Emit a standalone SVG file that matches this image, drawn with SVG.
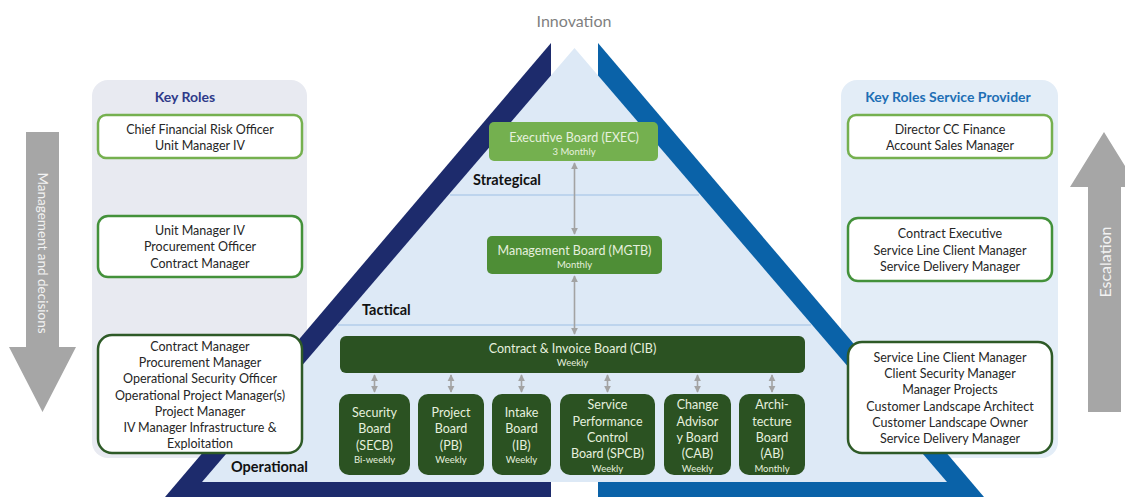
<svg xmlns="http://www.w3.org/2000/svg" width="1125" height="497" viewBox="0 0 1125 497">
  <style>
    text { font-family: Lato, "Liberation Sans", sans-serif; text-anchor: middle; }
    .role { font-size: 12.5px; fill: #262626; }
    .box { fill: #ffffff; stroke-width: 2.5; }
    .lvl1 { stroke: #75b04f; }
    .lvl2 { stroke: #43913a; }
    .lvl3 { stroke: #2e5a27; }
    .title { font-size: 14px; font-weight: bold; }
    .tier { font-size: 14.5px; font-weight: bold; fill: #111111; text-anchor: start; }
    .bname { font-size: 12.5px; fill: #e6f0de; }
    .bfreq { font-size: 9.5px; fill: #e6f0de; }
    .board { fill: #2b5222; }
    .divider { stroke: #9dc0e3; stroke-width: 1.2; }
    .link { stroke: #a3a3a3; stroke-width: 1.6; fill: none; marker-start: url(#tip); marker-end: url(#tip); }
    .flow { fill: #a6a6a6; }
    .flowtext { fill: #f2f2f2; }
  </style>
  <defs>
    <marker id="tip" viewBox="0 0 10 10" refX="9" refY="5" markerWidth="4.5" markerHeight="4.5" orient="auto-start-reverse">
      <path d="M0,0 L10,5 L0,10 Z" fill="#a3a3a3"/>
    </marker>
  </defs>

  <rect width="1125" height="497" fill="#ffffff"/>

  <!-- side panels -->
  <g id="panel-key-roles">
    <rect x="92" y="80" width="215" height="378" rx="16" fill="#e8eaf1"/>
    <text x="185" y="102" class="title" fill="#2f3a8a">Key Roles</text>
  </g>
  <g id="panel-service-provider">
    <rect x="841" y="80" width="217" height="378" rx="16" fill="#e3edf7"/>
    <text x="948" y="102" class="title" fill="#1e6fb5">Key Roles Service Provider</text>
  </g>

  <!-- pyramid -->
  <g id="pyramid">
    <polygon points="551,43 551,497 165,497" fill="#1d2b6c"/>
    <polygon points="598,43 598,497 984,497" fill="#0a62a8"/>
    <polygon points="574.5,48 947,482 202,482" fill="#dde9f6"/>
    <line x1="450" y1="195" x2="699" y2="195" class="divider"/>
    <line x1="338" y1="325" x2="811" y2="325" class="divider"/>
    <text x="473" y="185" class="tier">Strategical</text>
    <text x="362" y="315" class="tier">Tactical</text>
    <text x="231" y="472" class="tier">Operational</text>
  </g>

  <text x="574" y="27" font-size="16" fill="#7f7f7f">Innovation</text>

  <!-- flow arrows -->
  <g id="arrow-management">
    <polygon points="26,132 59,132 59,347 76,347 42.5,412 9,347 26,347" class="flow"/>
    <text transform="translate(42.5,253) rotate(90)" y="5" font-size="13.5" class="flowtext">Management and decisions</text>
  </g>
  <g id="arrow-escalation">
    <polygon points="1104,132 1138,187 1121,187 1121,412 1088,412 1088,187 1070,187" class="flow"/>
    <text transform="translate(1105,262) rotate(-90)" y="5.5" font-size="16" class="flowtext">Escalation</text>
  </g>

  <!-- customer key roles -->
  <g id="roles-strategic">
    <rect x="98" y="115" width="204" height="43" rx="8" class="box lvl1"/>
    <text x="200" y="133.5" class="role">Chief Financial Risk Officer</text>
    <text x="200" y="150" class="role">Unit Manager IV</text>
  </g>
  <g id="roles-tactical">
    <rect x="98" y="216" width="204" height="61" rx="10" class="box lvl2"/>
    <text x="200" y="234.5" class="role">Unit Manager IV</text>
    <text x="200" y="251" class="role">Procurement Officer</text>
    <text x="200" y="267.5" class="role">Contract Manager</text>
  </g>
  <g id="roles-operational">
    <rect x="98" y="335" width="204" height="118" rx="14" class="box lvl3"/>
    <text x="200" y="350.5" class="role">Contract Manager</text>
    <text x="200" y="366.5" class="role">Procurement Manager</text>
    <text x="200" y="382.5" class="role">Operational Security Officer</text>
    <text x="200" y="399.5" class="role">Operational Project Manager(s)</text>
    <text x="200" y="415.5" class="role">Project Manager</text>
    <text x="200" y="431.5" class="role">IV Manager Infrastructure &amp;</text>
    <text x="200" y="447.5" class="role">Exploitation</text>
  </g>

  <!-- service provider key roles -->
  <g id="sp-strategic">
    <rect x="848" y="115" width="204" height="43" rx="8" class="box lvl1"/>
    <text x="950" y="133.5" class="role">Director CC Finance</text>
    <text x="950" y="150" class="role">Account Sales Manager</text>
  </g>
  <g id="sp-tactical">
    <rect x="848" y="218" width="204" height="63" rx="10" class="box lvl2"/>
    <text x="950" y="237.5" class="role">Contract Executive</text>
    <text x="950" y="254.5" class="role">Service Line Client Manager</text>
    <text x="950" y="270.5" class="role">Service Delivery Manager</text>
  </g>
  <g id="sp-operational">
    <rect x="848" y="342" width="204" height="111" rx="14" class="box lvl3"/>
    <text x="950" y="361.5" class="role">Service Line Client Manager</text>
    <text x="950" y="377.5" class="role">Client Security Manager</text>
    <text x="950" y="393.5" class="role">Manager Projects</text>
    <text x="950" y="410.5" class="role">Customer Landscape Architect</text>
    <text x="950" y="426.5" class="role">Customer Landscape Owner</text>
    <text x="950" y="442.5" class="role">Service Delivery Manager</text>
  </g>

  <!-- connectors -->
  <g id="connectors">
    <line x1="574.5" y1="163" x2="574.5" y2="234" class="link"/>
    <line x1="574.5" y1="276" x2="574.5" y2="334" class="link"/>
    <line x1="374.5" y1="375" x2="374.5" y2="392" class="link"/>
    <line x1="451" y1="375" x2="451" y2="392" class="link"/>
    <line x1="521.5" y1="375" x2="521.5" y2="392" class="link"/>
    <line x1="607.5" y1="375" x2="607.5" y2="392" class="link"/>
    <line x1="697.5" y1="375" x2="697.5" y2="392" class="link"/>
    <line x1="772" y1="375" x2="772" y2="392" class="link"/>
  </g>

  <!-- boards -->
  <g id="exec">
    <rect x="489" y="122" width="169" height="39" rx="5" fill="#74b04f"/>
    <text x="574" y="142" class="bname">Executive Board (EXEC)</text>
    <text x="574" y="155" class="bfreq">3 Monthly</text>
  </g>
  <g id="mgtb">
    <rect x="487" y="236" width="175" height="38" rx="5" fill="#4e8e36"/>
    <text x="574.5" y="255" class="bname">Management Board (MGTB)</text>
    <text x="574.5" y="268" class="bfreq">Monthly</text>
  </g>
  <g id="cib">
    <rect x="340" y="336" width="465" height="37" rx="6" class="board"/>
    <text x="572.5" y="353" class="bname">Contract &amp; Invoice Board (CIB)</text>
    <text x="572.5" y="366" class="bfreq">Weekly</text>
  </g>
  <g id="secb">
    <rect x="339" y="394" width="71" height="81" rx="10" class="board"/>
    <text x="374.5" y="416.5" class="bname">Security</text>
    <text x="374.5" y="432.5" class="bname">Board</text>
    <text x="374.5" y="449.5" class="bname">(SECB)</text>
    <text x="374.5" y="462.5" class="bfreq">Bi-weekly</text>
  </g>
  <g id="pb">
    <rect x="418" y="394" width="66" height="81" rx="10" class="board"/>
    <text x="451" y="416.5" class="bname">Project</text>
    <text x="451" y="432.5" class="bname">Board</text>
    <text x="451" y="449.5" class="bname">(PB)</text>
    <text x="451" y="462.5" class="bfreq">Weekly</text>
  </g>
  <g id="ib">
    <rect x="492" y="394" width="59" height="81" rx="10" class="board"/>
    <text x="521.5" y="416.5" class="bname">Intake</text>
    <text x="521.5" y="432.5" class="bname">Board</text>
    <text x="521.5" y="449.5" class="bname">(IB)</text>
    <text x="521.5" y="462.5" class="bfreq">Weekly</text>
  </g>
  <g id="spcb">
    <rect x="560" y="394" width="95" height="81" rx="10" class="board"/>
    <text x="607.5" y="408.5" class="bname">Service</text>
    <text x="607.5" y="425.5" class="bname">Performance</text>
    <text x="607.5" y="441.5" class="bname">Control</text>
    <text x="607.5" y="457.5" class="bname">Board (SPCB)</text>
    <text x="607.5" y="471.5" class="bfreq">Weekly</text>
  </g>
  <g id="cab">
    <rect x="664" y="394" width="67" height="81" rx="10" class="board"/>
    <text x="697.5" y="408.5" class="bname">Change</text>
    <text x="697.5" y="425.5" class="bname">Advisor</text>
    <text x="697.5" y="441.5" class="bname">y Board</text>
    <text x="697.5" y="457.5" class="bname">(CAB)</text>
    <text x="697.5" y="471.5" class="bfreq">Weekly</text>
  </g>
  <g id="ab">
    <rect x="739" y="394" width="66" height="81" rx="10" class="board"/>
    <text x="772" y="408.5" class="bname">Archi-</text>
    <text x="772" y="425.5" class="bname">tecture</text>
    <text x="772" y="441.5" class="bname">Board</text>
    <text x="772" y="457.5" class="bname">(AB)</text>
    <text x="772" y="471.5" class="bfreq">Monthly</text>
  </g>
</svg>
